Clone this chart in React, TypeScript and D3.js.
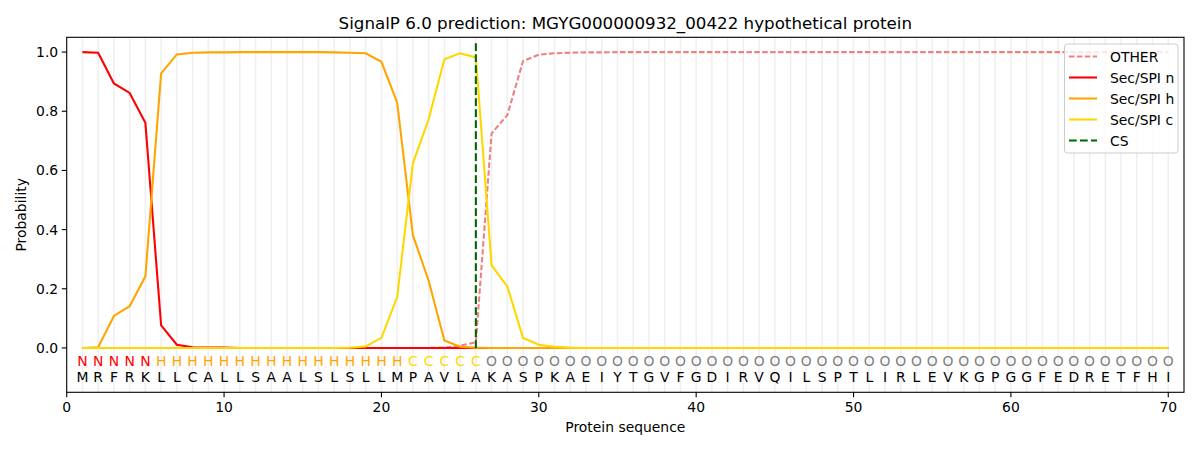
import { useEffect, useRef } from "react";
import * as d3 from "d3";

const sequence = "MRFRKLLCALLSAALSLSLLMPAVLAKASPKAEIYTGVFGDIRVQILSPTLIRLEVKGPGGFEDRETFHI".split("");
const regionLabels = [
  ...Array(5).fill("N"),
  ...Array(16).fill("H"),
  ...Array(5).fill("C"),
  ...Array(44).fill("O"),
];

const secN = [1.0, 0.998, 0.894, 0.862, 0.761, 0.076, 0.011, 0.002, 0.001, 0.001];
const secH = [
  0.0, 0.002, 0.108, 0.141, 0.242, 0.928, 0.992, 0.998, 0.999, 0.999,
  1.0, 1.0, 1.0, 1.0, 1.0, 1.0, 0.999, 0.998, 0.996, 0.967,
  0.829, 0.381, 0.227, 0.025, 0.004, 0.001,
];
const secC = [
  0, 0, 0, 0, 0, 0, 0, 0, 0, 0,
  0, 0, 0, 0, 0, 0, 0, 0.001, 0.005, 0.034,
  0.172, 0.624, 0.773, 0.976, 0.996, 0.982, 0.279, 0.208, 0.034, 0.011,
  0.004, 0.001,
];
const other = [
  0, 0, 0, 0, 0, 0, 0, 0, 0, 0,
  0, 0, 0, 0, 0, 0, 0, 0, 0, 0,
  0, 0, 0, 0.001, 0.008, 0.019, 0.725, 0.787, 0.97, 0.991,
  0.996, 0.998, 0.999, 0.999,
];
const csPosition = 26;
const xTicks = [0, 10, 20, 30, 40, 50, 60, 70];
const yTicks = [0, 0.2, 0.4, 0.6, 0.8, 1.0];

const pad = (arr: number[]) => sequence.map((_, i) => (i < arr.length ? arr[i] : arr === other ? 1.0 : 0));

const regionColor: Record<string, string> = {
  N: "#ff0000",
  H: "#ffa500",
  C: "#ffd700",
  O: "#808080",
};

const App = () => {
  const svgRef = useRef<SVGSVGElement>(null);

  useEffect(() => {
    const width = 1200;
    const height = 450;
    const left = 66.7;
    const right = 1184;
    const top = 37.3;
    const bottom = 392.3;
    const font = "DejaVu Sans, sans-serif";

    const svg = d3.select(svgRef.current).attr("width", width).attr("height", height);
    svg.selectAll("*").remove();

    const x = d3.scaleLinear().domain([0, 71]).range([left, right]);
    const y = d3.scaleLinear().domain([-0.15, 1.05]).range([bottom, top]);

    svg.append("rect").attr("width", width).attr("height", height).attr("fill", "#fff");

    // grid per residue
    svg
      .append("g")
      .selectAll("line")
      .data(sequence.map((_, i) => i + 1))
      .enter()
      .append("line")
      .attr("x1", (d) => x(d))
      .attr("x2", (d) => x(d))
      .attr("y1", top)
      .attr("y2", bottom)
      .attr("stroke", "#efefef")
      .attr("stroke-width", 1.5);

    const line = d3
      .line<number>()
      .x((_, i) => x(i + 1))
      .y((d) => y(d));

    const series = [
      { name: "OTHER", values: pad(other), color: "#f08080", dash: "5.5,2.4" },
      { name: "Sec/SPI n", values: pad(secN), color: "#ff0000", dash: null },
      { name: "Sec/SPI h", values: pad(secH), color: "#ffa500", dash: null },
      { name: "Sec/SPI c", values: pad(secC), color: "#ffd700", dash: null },
    ];

    series.forEach((s) => {
      svg
        .append("path")
        .datum(s.values)
        .attr("d", line)
        .attr("fill", "none")
        .attr("stroke", s.color)
        .attr("stroke-width", 2.08)
        .attr("stroke-dasharray", s.dash);
    });

    // cleavage site
    svg
      .append("line")
      .attr("x1", x(csPosition))
      .attr("x2", x(csPosition))
      .attr("y1", y(0))
      .attr("y2", y(1.04))
      .attr("stroke", "#006400")
      .attr("stroke-width", 2.08)
      .attr("stroke-dasharray", "7.7,3.3");

    // residue labels
    const labels = svg.append("g").attr("font-family", font).attr("font-size", 13.9).attr("text-anchor", "middle");
    labels
      .selectAll("text.region")
      .data(regionLabels)
      .enter()
      .append("text")
      .attr("x", (_, i) => x(i + 1))
      .attr("y", 366)
      .attr("fill", (d) => regionColor[d])
      .text((d) => d);
    labels
      .selectAll("text.aa")
      .data(sequence)
      .enter()
      .append("text")
      .attr("x", (_, i) => x(i + 1))
      .attr("y", 381.5)
      .attr("fill", "#000")
      .text((d) => d);

    // frame
    svg
      .append("rect")
      .attr("x", left)
      .attr("y", top)
      .attr("width", right - left)
      .attr("height", bottom - top)
      .attr("fill", "none")
      .attr("stroke", "#000")
      .attr("stroke-width", 1.1);

    // x axis
    const xg = svg.append("g").attr("font-family", font).attr("font-size", 13.9);
    xTicks.forEach((t) => {
      xg.append("line").attr("x1", x(t)).attr("x2", x(t)).attr("y1", bottom).attr("y2", bottom + 4.9).attr("stroke", "#000").attr("stroke-width", 1.1);
      xg.append("text").attr("x", x(t)).attr("y", bottom + 19.5).attr("text-anchor", "middle").text(String(t));
    });
    xg.append("text").attr("x", (left + right) / 2).attr("y", 432).attr("text-anchor", "middle").text("Protein sequence");

    // y axis
    const yg = svg.append("g").attr("font-family", font).attr("font-size", 13.9);
    yTicks.forEach((t) => {
      yg.append("line").attr("x1", left - 4.9).attr("x2", left).attr("y1", y(t)).attr("y2", y(t)).attr("stroke", "#000").attr("stroke-width", 1.1);
      yg.append("text").attr("x", left - 8.5).attr("y", y(t) + 5).attr("text-anchor", "end").text(t.toFixed(1));
    });
    yg.append("text")
      .attr("transform", `translate(26,${(top + bottom) / 2}) rotate(-90)`)
      .attr("text-anchor", "middle")
      .text("Probability");

    // title
    svg
      .append("text")
      .attr("x", (left + right) / 2)
      .attr("y", 29)
      .attr("text-anchor", "middle")
      .attr("font-family", font)
      .attr("font-size", 16.7)
      .text("SignalP 6.0 prediction: MGYG000000932_00422 hypothetical protein");

    // legend
    const legendItems = [
      ...series.map((s) => ({ name: s.name, color: s.color, dash: s.dash })),
      { name: "CS", color: "#006400", dash: "7.7,3.3" },
    ];
    const lg = svg.append("g").attr("font-family", font).attr("font-size", 13.9);
    lg.append("rect")
      .attr("x", 1064.5)
      .attr("y", 44)
      .attr("width", 113.5)
      .attr("height", 109)
      .attr("rx", 3)
      .attr("fill", "#fff")
      .attr("fill-opacity", 0.8)
      .attr("stroke", "#cccccc")
      .attr("stroke-width", 1);
    legendItems.forEach((item, i) => {
      const cy = 56.5 + i * 21;
      lg.append("line")
        .attr("x1", 1069)
        .attr("x2", 1097)
        .attr("y1", cy)
        .attr("y2", cy)
        .attr("stroke", item.color)
        .attr("stroke-width", 2.08)
        .attr("stroke-dasharray", item.dash);
      lg.append("text").attr("x", 1110).attr("y", cy + 5).text(item.name);
    });
  }, []);

  return <svg ref={svgRef} style={{ position: "absolute", left: 0, top: 0 }} />;
};

export default App;
